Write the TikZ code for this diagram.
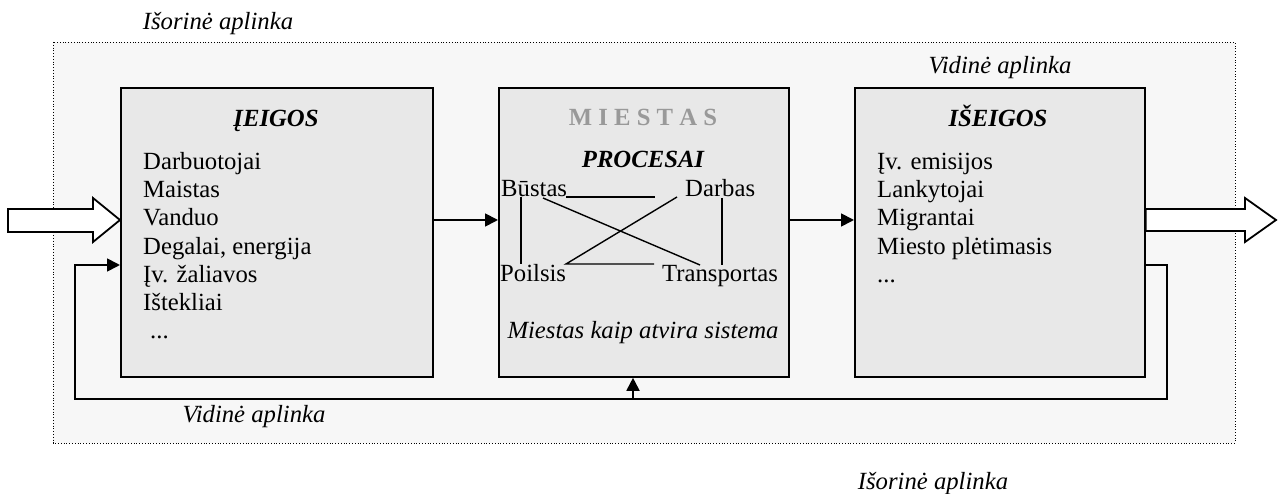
\documentclass[tikz,border=0pt]{standalone}
\usepackage{fontspec}
\setmainfont{Liberation Serif}
\usetikzlibrary{arrows.meta}
\definecolor{outerbg}{HTML}{F7F7F7}
\definecolor{boxbg}{HTML}{E8E8E8}
\definecolor{titlegray}{HTML}{999999}
\newcommand\diagfs{\fontsize{24.7}{28}\selectfont}
\begin{document}
\begin{tikzpicture}[x=1pt,y=-1pt, font=\diagfs,
  box/.style={draw=black, line width=1.8pt, fill=boxbg, inner sep=0pt, anchor=north west},
  lbl/.style={inner sep=0pt, anchor=base},
  item/.style={inner sep=0pt, anchor=base west},
  conn/.style={line width=1.8pt, -{Triangle[length=13pt,width=13pt]}},
  plainline/.style={line width=1.4pt},
  bigarrow/.style={draw, line width=1.8pt, fill=white, line join=miter}]
\useasboundingbox (0,0) rectangle (1278,494);
% outer environment
\draw[dotted, line width=0.8pt, fill=outerbg] (53,42) rectangle (1235,443);
% boxes
\node[box, minimum width=312pt, minimum height=289pt] (in) at (120,87) {};
\node[box, minimum width=290pt, minimum height=289pt] (city) at (498,87) {};
\node[box, minimum width=290pt, minimum height=289pt] (out) at (854,87) {};
% helper coordinates
\coordinate (y220) at (0,220);
\coordinate (y265) at (0,265);
\coordinate (fbR) at (1167,399);
\coordinate (fbL) at (75,399);
\coordinate (up) at (633,399);
% connectors
\draw[conn] (in.east |- y220) -- (city.west |- y220);
\draw[conn] (city.east |- y220) -- (out.west |- y220);
\draw[conn] (out.east |- y265) -| (fbR) -- (fbL) |- (in.west |- y265);
\draw[conn] (up) -- (up |- city.south);
% big arrows
\draw[bigarrow] (8,209) -- (93,209) -- (93,198) -- (in.west |- y220) -- (93,242) -- (93,232) -- (8,232) -- cycle;
\draw[bigarrow] (out.east |- 0,209) -- (1245,209) -- (1245,198) -- (1276,220) -- (1245,242) -- (1245,231) -- (out.east |- 0,231) -- cycle;
% outer labels
\node[lbl, font=\diagfs\itshape] (ext1) at (218,30) {Išorinė aplinka};
\node[lbl, font=\diagfs\itshape] (int1) at (1000,74) {Vidinė aplinka};
\node[lbl, font=\diagfs\itshape] (int2) at (254,422) {Vidinė aplinka};
\node[lbl, font=\diagfs\itshape] (ext2) at (933,489) {Išorinė aplinka};
% inputs
\node[lbl, font=\diagfs\bfseries\itshape] (tin) at (276,127) {ĮEIGOS};
\node[item] (i1) at (143,170) {Darbuotojai};
\node[item] (i2) at (143,198) {Maistas};
\node[item] (i3) at (143,226) {Vanduo};
\node[item] (i4) at (143,255) {Degalai, energija};
\node[item] (i5) at (143,283) {Įv. žaliavos};
\node[item] (i6) at (143,311) {Ištekliai};
\node[item] (i7) at (150,339) {...};
% outputs
\node[lbl, font=\diagfs\bfseries\itshape] (tout) at (998,127) {IŠEIGOS};
\node[item] (o1) at (877,170) {Įv. emisijos};
\node[item] (o2) at (877,198) {Lankytojai};
\node[item] (o3) at (877,226) {Migrantai};
\node[item] (o4) at (877,255) {Miesto plėtimasis};
\node[item] (o5) at (877,283) {...};
% city
\node[lbl, font=\diagfs\bfseries, text=titlegray] (tcity) at (643,126) {M I E S T A S};
\node[lbl, font=\diagfs\bfseries\itshape] (tproc) at (643,168) {PROCESAI};
\node[item] (bu) at (501,197) {Būstas};
\node[item] (da) at (685,197) {Darbas};
\node[item] (po) at (500,282) {Poilsis};
\node[item] (tr) at (662,282) {Transportas};
\node[lbl, font=\diagfs\itshape] (sys) at (643,339) {Miestas kaip atvira sistema};
% process links
\draw[plainline] (566,197) -- (655,197);
\draw[plainline] (543,198) -- (700,265);
\draw[plainline] (677,197) -- (566,264) -- (654,264);
\draw[plainline] (521,197) -- (521,264);
\draw[plainline] (722,198) -- (722,265);
\end{tikzpicture}
\end{document}
